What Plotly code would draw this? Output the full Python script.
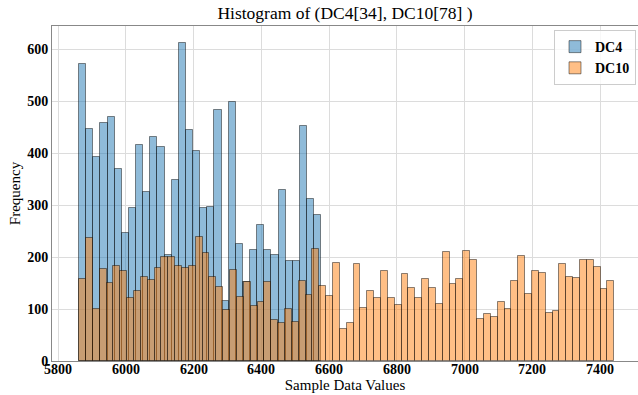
import numpy as np
import plotly.graph_objects as go

# ---- data ----
dc4_range = [5862, 6577]
dc4_counts = [572, 446, 392, 459, 469, 369, 246, 294, 415, 326, 432, 413, 204, 348,
              613, 445, 405, 295, 296, 483, 116, 498, 225, 153, 214, 262, 214, 205,
              329, 192, 192, 452, 312, 282]

dc10_range = [5862, 7442]
dc10_counts = [158, 237, 100, 177, 150, 182, 173, 121, 134, 161, 156, 180, 200, 201,
               182, 179, 182, 238, 208, 162, 143, 99, 175, 123, 152, 106, 114, 152,
               78, 73, 100, 75, 154, 128, 215, 145, 126, 189, 62, 73, 187, 103, 135,
               121, 173, 121, 108, 168, 141, 121, 157, 141, 110, 209, 148, 158, 212,
               195, 81, 90, 85, 114, 100, 155, 202, 129, 174, 170, 93, 97, 187, 162,
               160, 195, 194, 181, 139, 155]

x_ticks = [5800, 6000, 6200, 6400, 6600, 6800, 7000, 7200, 7400]
y_ticks = [0, 100, 200, 300, 400, 500, 600]


def bins(rng, counts):
    edges = np.linspace(rng[0], rng[1], len(counts) + 1)
    centers = (edges[:-1] + edges[1:]) / 2
    width = edges[1] - edges[0]
    return centers, width


c4, w4 = bins(dc4_range, dc4_counts)
c10, w10 = bins(dc10_range, dc10_counts)

serif = "Liberation Serif, Times New Roman, serif"

fig = go.Figure()
fig.add_trace(go.Bar(
    x=c4, y=dc4_counts, width=w4, name="DC4",
    marker=dict(color="rgba(31,119,180,0.5)",
                line=dict(color="rgba(0,0,0,0.45)", width=1)),
))
fig.add_trace(go.Bar(
    x=c10, y=dc10_counts, width=w10, name="DC10",
    marker=dict(color="rgba(255,127,14,0.5)",
                line=dict(color="rgba(0,0,0,0.45)", width=1)),
))

# x tick labels placed just under the axis (as in the reference)
for t in x_ticks:
    fig.add_annotation(x=t, xref="x", y=0, yref="paper", yanchor="top",
                       yshift=0, showarrow=False, text=str(t), borderpad=0,
                       font=dict(family=serif, size=14, color="black", weight="bold"))

fig.update_layout(
    width=638, height=395,
    margin=dict(l=52, r=0, t=26, b=33.5),
    barmode="overlay", bargap=0,
    plot_bgcolor="white", paper_bgcolor="white",
    font=dict(family=serif, color="black"),
    title=dict(text="Histogram of (DC4[34], DC10[78] )", x=0.5, xref="paper",
               xanchor="center", y=0.967, yref="container", yanchor="middle",
               font=dict(family=serif, size=17.5, color="black")),
    legend=dict(x=0.9966, y=0.988, xanchor="right", yanchor="top",
                bgcolor="rgba(255,255,255,0.8)", bordercolor="#cccccc", borderwidth=1,
                font=dict(family=serif, size=14, color="black", weight="bold"),
                itemwidth=30, tracegroupgap=4),
    showlegend=True,
)

fig.update_xaxes(
    range=[5782, 7512], tickvals=x_ticks, showticklabels=False,
    showgrid=True, gridcolor="#dcdcdc", gridwidth=1,
    showline=True, linecolor="#888888", linewidth=1, mirror=True,
    ticks="", zeroline=False, automargin=False,
    title=dict(text="Sample Data Values", standoff=18,
               font=dict(family=serif, size=15, color="black")),
)
fig.update_yaxes(
    range=[0, 645], tickvals=y_ticks,
    showgrid=True, gridcolor="#dcdcdc", gridwidth=1,
    showline=True, linecolor="#888888", linewidth=1, mirror=True,
    ticks="", zeroline=False, automargin=False,
    tickfont=dict(family=serif, size=14, color="black", weight="bold"),
    title=dict(text="Frequency", standoff=2,
               font=dict(family=serif, size=15, color="black")),
)

fig.write_html("out.html")
